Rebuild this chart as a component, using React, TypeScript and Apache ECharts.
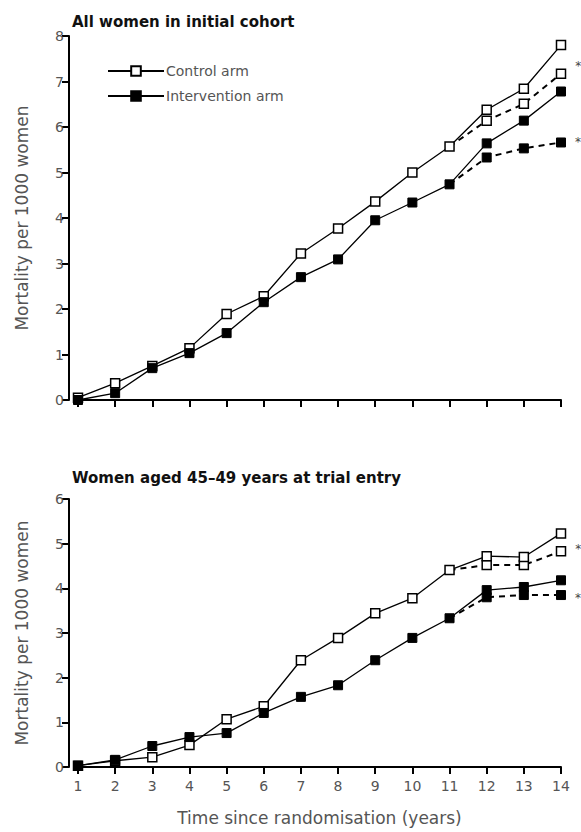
import React, { useEffect, useRef } from "react";
import * as echarts from "echarts";

// Years since randomisation (x-axis ticks, 1..14)
const years = [1, 2, 3, 4, 5, 6, 7, 8, 9, 10, 11, 12, 13, 14];

// All women in initial cohort — mortality per 1000 women
const cohortControl = [0.05, 0.37, 0.75, 1.14, 1.89, 2.28, 3.22, 3.77, 4.36, 5.0, 5.57, 6.38, 6.84, 7.8];
const cohortIntervention = [0.0, 0.15, 0.7, 1.03, 1.47, 2.15, 2.7, 3.09, 3.95, 4.34, 4.74, 5.64, 6.14, 6.78];
// Adjusted (dashed) continuations, years 12–14
const adjYears = [12, 13, 14];
const cohortControlAdj = [6.14, 6.51, 7.17];
const cohortInterventionAdj = [5.33, 5.53, 5.66];

// Women aged 45–49 years at trial entry
const youngControl = [0.03, 0.14, 0.22, 0.49, 1.07, 1.36, 2.39, 2.89, 3.44, 3.78, 4.41, 4.72, 4.7, 5.23];
const youngIntervention = [0.03, 0.16, 0.47, 0.67, 0.76, 1.21, 1.57, 1.83, 2.39, 2.89, 3.33, 3.96, 4.03, 4.18];
const youngControlAdj = [4.52, 4.52, 4.83];
const youngInterventionAdj = [3.8, 3.85, 3.85];

const FONT = "DejaVu Sans";
const GREY = "#555";

const pairs = (vals: number[]) => years.map((y, i) => [y, vals[i]]);

// Dashed continuation starts from the year-11 value of the solid series
const adjPairs = (solid: number[], adj: number[], starOffset: number) => {
  const start = { value: [11, solid[years.indexOf(11)]], symbol: "none" };
  const rest = adjYears.map((y, i) => {
    const item: any = { value: [y, adj[i]] };
    if (i === adj.length - 1) {
      item.label = {
        show: true,
        formatter: "*",
        position: "right",
        distance: 9,
        offset: [0, starOffset],
        color: "#444",
        fontSize: 12,
        fontFamily: FONT,
      };
    }
    return item;
  });
  return [start, ...rest];
};

const openSquare = {
  symbol: "rect",
  symbolSize: 9,
  itemStyle: { color: "#fff", borderColor: "#000", borderWidth: 1.5 },
};
const filledSquare = {
  symbol: "rect",
  symbolSize: 9,
  itemStyle: { color: "#000", borderColor: "#000", borderWidth: 1 },
};

const solidLine = { color: "#000", width: 1.3 };
const dashedLine = { color: "#000", width: 2, type: [6, 5] as any };

const yAxisBase = (max: number, gridIndex: number) => ({
  type: "value",
  gridIndex,
  min: 0,
  max,
  interval: 1,
  offset: 9,
  name: "Mortality per 1000 women",
  nameLocation: "middle",
  nameGap: 39,
  nameTextStyle: { color: GREY, fontSize: 17, fontFamily: FONT },
  splitLine: { show: false },
  axisLine: { show: true, lineStyle: { color: "#000", width: 2 } },
  axisTick: { show: true, length: 7, lineStyle: { color: "#000", width: 2 } },
  axisLabel: { color: GREY, fontSize: 14, fontFamily: FONT, margin: 5 },
});

const xAxisBase = (gridIndex: number, showLabels: boolean) => ({
  type: "value",
  gridIndex,
  min: 1,
  max: 14,
  interval: 1,
  offset: 8,
  splitLine: { show: false },
  axisLine: { show: true, lineStyle: { color: "#000", width: 2 } },
  axisTick: { show: true, length: 7, lineStyle: { color: "#000", width: 2 } },
  axisLabel: {
    show: showLabels,
    color: GREY,
    fontSize: 14,
    fontFamily: FONT,
    margin: 4,
  },
});

export default function App() {
  const ref = useRef<HTMLDivElement>(null);

  useEffect(() => {
    if (!ref.current) return;
    const chart = echarts.init(ref.current, undefined, { renderer: "svg" });

    chart.setOption({
      animation: false,
      backgroundColor: "#fff",
      title: [
        {
          text: "All women in initial cohort",
          left: 72,
          top: 14,
          padding: 0,
          textStyle: { fontSize: 15, fontWeight: "bold", fontFamily: FONT, color: "#111" },
        },
        {
          text: "Women aged 45–49 years at trial entry",
          left: 72,
          top: 470,
          padding: 0,
          textStyle: { fontSize: 15, fontWeight: "bold", fontFamily: FONT, color: "#111" },
        },
      ],
      legend: {
        data: ["Control arm", "Intervention arm"],
        orient: "vertical",
        left: 107,
        top: 64,
        padding: 0,
        itemWidth: 56,
        itemHeight: 12,
        itemGap: 11,
        textStyle: { color: GREY, fontSize: 14, fontFamily: FONT, padding: [0, 0, 0, -3] },
      },
      grid: [
        { left: 78, width: 483, top: 36, height: 364 },
        { left: 78, width: 483, top: 499, height: 268 },
      ],
      xAxis: [
        xAxisBase(0, false),
        {
          ...xAxisBase(1, true),
          name: "Time since randomisation (years)",
          nameLocation: "middle",
          nameGap: 34,
          nameTextStyle: { color: GREY, fontSize: 17, fontFamily: FONT },
        },
      ],
      yAxis: [yAxisBase(8, 0), yAxisBase(6, 1)],
      series: [
        {
          name: "Control arm",
          type: "line",
          xAxisIndex: 0,
          yAxisIndex: 0,
          data: pairs(cohortControl),
          lineStyle: solidLine,
          z: 3,
          ...openSquare,
        },
        {
          name: "Intervention arm",
          type: "line",
          xAxisIndex: 0,
          yAxisIndex: 0,
          data: pairs(cohortIntervention),
          lineStyle: solidLine,
          z: 3,
          ...filledSquare,
        },
        {
          name: "Control arm (adjusted)",
          type: "line",
          xAxisIndex: 0,
          yAxisIndex: 0,
          data: adjPairs(cohortControl, cohortControlAdj, -8),
          lineStyle: dashedLine,
          z: 2,
          ...openSquare,
        },
        {
          name: "Intervention arm (adjusted)",
          type: "line",
          xAxisIndex: 0,
          yAxisIndex: 0,
          data: adjPairs(cohortIntervention, cohortInterventionAdj, 0),
          lineStyle: dashedLine,
          z: 2,
          ...filledSquare,
        },
        {
          name: "Control arm",
          type: "line",
          xAxisIndex: 1,
          yAxisIndex: 1,
          data: pairs(youngControl),
          lineStyle: solidLine,
          z: 3,
          ...openSquare,
        },
        {
          name: "Intervention arm",
          type: "line",
          xAxisIndex: 1,
          yAxisIndex: 1,
          data: pairs(youngIntervention),
          lineStyle: solidLine,
          z: 3,
          ...filledSquare,
        },
        {
          name: "Control arm (adjusted)",
          type: "line",
          xAxisIndex: 1,
          yAxisIndex: 1,
          data: adjPairs(youngControl, youngControlAdj, -2),
          lineStyle: dashedLine,
          z: 2,
          ...openSquare,
        },
        {
          name: "Intervention arm (adjusted)",
          type: "line",
          xAxisIndex: 1,
          yAxisIndex: 1,
          data: adjPairs(youngIntervention, youngInterventionAdj, 3),
          lineStyle: dashedLine,
          z: 2,
          ...filledSquare,
        },
      ],
    });

    return () => chart.dispose();
  }, []);

  return (
    <div
      ref={ref}
      style={{ position: "fixed", left: 0, top: 0, width: 581, height: 832, background: "#fff" }}
    />
  );
}
